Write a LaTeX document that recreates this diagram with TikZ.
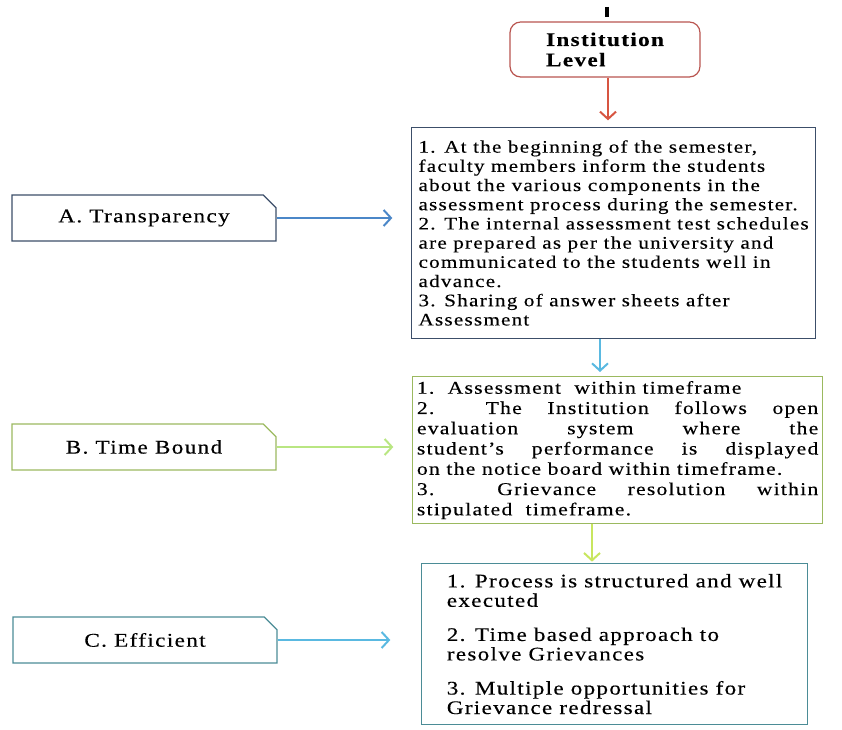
\documentclass[tikz,border=0pt]{standalone}
\usepackage{fontspec}
\usetikzlibrary{arrows.meta,shapes.misc}
\newfontfamily\boxfont[FakeStretch=1.2,LetterSpace=7,FakeBold=0.3]{Liberation Serif}
\newcommand{\pointfont}{\boxfont\fontsize{13.2}{14.4}\selectfont}
\newcommand{\headfont}{\boxfont\fontsize{14.5}{15.2}\selectfont}
\definecolor{instred}{RGB}{185,85,80}
\definecolor{arrowred}{RGB}{215,85,65}
\definecolor{boxslate}{RGB}{60,78,105}
\definecolor{boxolive}{RGB}{155,185,95}
\definecolor{boxteal}{RGB}{75,140,150}
\definecolor{arrowblue}{RGB}{75,135,200}
\definecolor{arrowcyan}{RGB}{90,185,225}
\definecolor{arrowgreen}{RGB}{185,230,130}
\definecolor{arrowlime}{RGB}{200,230,95}
\tikzset{
  levelbox/.style={draw=instred, line width=0.9pt, rounded corners=8pt, minimum width=142.5pt, minimum height=41.25pt, align=left, font=\headfont\bfseries},
  headbox/.style={chamfered rectangle, chamfered rectangle corners=north east, chamfered rectangle xsep=6.75pt, draw, line width=0.9pt, minimum width=198pt, minimum height=34.5pt, font=\headfont},
  pointbox/.style={draw, line width=0.9pt, anchor=north west, align=left},
  flow/.style={line width=1.5pt, -{Straight Barb[length=5.5pt,width=12pt,line width=1.5pt]}}
}
\begin{document}
\begin{tikzpicture}[x=0.75pt,y=0.75pt,yscale=-1,xscale=1]
\useasboundingbox (0,0) rectangle (842,730);
\coordinate (top) at (607,7);
\coordinate (xred) at (608,0);
\coordinate (xcyan) at (600,0);
\coordinate (xlime) at (592,0);
\node [levelbox] (inst) at (605,49.5) {Institution\\Level};
\node [pointbox, draw=boxslate, minimum width=303pt, minimum height=158pt, font=\pointfont] (pA) at (411,127) {1. At the beginning of the semester,\\faculty members inform the students\\about the various components in the\\assessment process during the semester.\\2. The internal assessment test schedules\\are prepared as per the university and\\communicated to the students well in\\advance.\\3. Sharing of answer sheets after\\Assessment};
\node [pointbox, draw=boxolive, minimum width=307.5pt, minimum height=108.75pt, text width=301pt, inner xsep=1.5pt, align=justify, font=\boxfont\fontsize{13.5}{15.2}\selectfont] (pB) at (412,376) {1.\ \ Assessment\ \ within timeframe\\2.\ \ The Institution follows open\linebreak evaluation system where the\linebreak student’s performance is displayed\linebreak on the notice board within timeframe.\\3.\ \ Grievance resolution within\linebreak stipulated\ \ timeframe.};
\node [pointbox, draw=boxteal, minimum width=289.5pt, minimum height=120.75pt, font=\boxfont\fontsize{14.4}{14.6}\selectfont] (pC) at (421,563) {1. Process is structured and well\\executed\\[11pt]2. Time based approach to\\resolve Grievances\\[11pt]3. Multiple opportunities for\\Grievance redressal};
\node [headbox, draw=boxslate] (tA) at (144,218) {A. Transparency};
\node [headbox, draw=boxolive] (tB) at (144,447) {B. Time Bound};
\node [headbox, draw=boxteal] (tC) at (145,640) {C. Efficient};
\draw [line width=3pt, shorten >=3pt] (top) -- (top |- inst.north);
\draw [flow, color=arrowred, shorten >=5pt] (inst.south -| xred) -- (pA.north -| xred);
\draw [flow, color=arrowcyan, shorten >=3pt] (pA.south -| xcyan) -- (pB.north -| xcyan);
\draw [flow, color=arrowlime, shorten >=1pt] (pB.south -| xlime) -- (pC.north -| xlime);
\draw [flow, color=arrowblue, shorten >=14pt] (tA.east) -- (tA.east -| pA.west);
\draw [flow, color=arrowgreen, shorten >=14pt] (tB.east) -- (tB.east -| pB.west);
\draw [flow, color=arrowcyan, shorten >=23pt] (tC.east) -- (tC.east -| pC.west);
\end{tikzpicture}
\end{document}
